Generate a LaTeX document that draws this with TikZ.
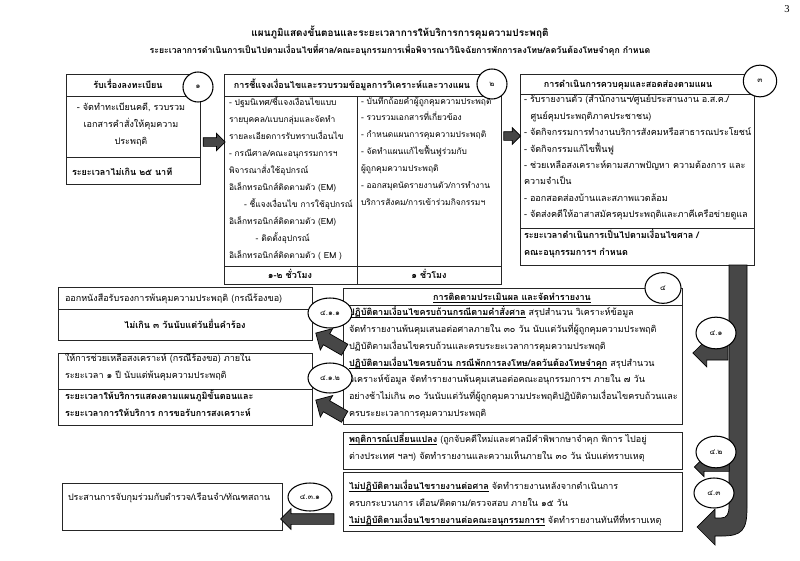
\documentclass[tikz,border=0pt]{standalone}
\usepackage{fontspec}
\setmainfont{Liberation Serif}
\newfontfamily\thaifont[Script=Thai]{Loma}
\usetikzlibrary{shapes.geometric,shapes.arrows,fit,calc}
\newcommand\mystrut{\rule[-4.45pt]{0pt}{14.45pt}}
\newcommand\myul[1]{{\setbox0\hbox{#1}\rlap{\rule[-2.2pt]{\wd0}{0.5pt}}\box0}}
\begin{document}
\begin{tikzpicture}[x=0.03cm,y=-0.03cm,
  base/.style={font=\thaifont\fontsize{7.7}{14.45}\selectfont, inner sep=0pt, outer sep=0pt,
    execute at begin node={\lineskiplimit=-20pt\lineskip=0pt\mystrut}},
  t/.style={base, align=left, anchor=north west},
  ctr/.style={base, anchor=center},
  bold/.style={font=\thaifont\bfseries\fontsize{7.7}{14.45}\selectfont},
  small/.style={font=\thaifont\fontsize{7.2}{14.45}\selectfont},
  frame/.style={draw=black!85, line width=0.7pt, inner sep=0pt, outer sep=0pt},
  rule/.style={draw=black!85, line width=0.7pt},
  lbl/.style={ellipse, draw=black, line width=0.9pt, fill=white, inner sep=0pt,
    font=\thaifont\fontsize{6.5}{8}\selectfont},
  blk/.style={single arrow, draw=black, line width=0.6pt, fill=black!72, inner sep=0pt,
    single arrow head indent=0pt, minimum width=0pt, outer sep=0pt},
]
\useasboundingbox (0,0) rectangle (800,561);
\fill[white] (0,0) rectangle (800,561);

% ---------- titles
\node[ctr, font=\thaifont\bfseries\fontsize{8.5}{14.45}\selectfont] (title) at (400,33)
  {แผนภูมิแสดงขั้นตอนและระยะเวลาการให้บริการการคุมความประพฤติ};
\node[ctr, font=\thaifont\bfseries\fontsize{7.45}{14.45}\selectfont] (subtitle) at (400,50)
  {ระยะเวลาการดำเนินการเป็นไปตามเงื่อนไขที่ศาล/คณะอนุกรรมการเพื่อพิจารณาวินิจฉัยการพักการลงโทษ/ลดวันต้องโทษจำคุก กำหนด};
\node[inner sep=0pt, font=\fontsize{9}{10}\selectfont] (pg) at (787,9) {3};

% ---------- box 1
\node[frame, fit={(66,74)(200,184)}] (b1) {};
\draw[rule] (66,96) -- (200,96);
\draw[rule] (66,157) -- (200,157);
\node[ctr, bold] (b1h) at (128,85) {รับเรื่องลงทะเบียน};
\node[t, align=center, anchor=north] (b1b) at (131,103)
  {- จัดทำทะเบียนคดี, รวบรวม\\เอกสารคำสั่งให้คุมความ\\ประพฤติ};
\node[ctr, bold, anchor=west] (b1f) at (72,172) {ระยะเวลาไม่เกิน ๒๕ นาที};
\node[lbl, minimum width=0.9cm, minimum height=0.9cm] (c1) at (198,87) {๑};

% ---------- box 2
\node[frame, fit={(224,74)(501,284)}] (b2) {};
\draw[rule] (224,96) -- (501,96);
\draw[rule] (357,96) -- (357,284);
\draw[rule] (224,266) -- (501,266);
\node[ctr, bold] (b2h) at (352,85) {การชี้แจงเงื่อนไขและรวบรวมข้อมูลการวิเคราะห์และวางแผน};
\node[t, small] (b2l) at (229,97)
  {- ปฐมนิเทศ/ชี้แจงเงื่อนไขแบบ\\
   รายบุคคล/แบบกลุ่มและจัดทำ\\
   รายละเอียดการรับทราบเงื่อนไข\\
   - กรณีศาล/คณะอนุกรรมการฯ\\
   พิจารณาสั่งใช้อุปกรณ์\\
   อิเล็กทรอนิกส์ติดตามตัว (EM)\\
   \hspace*{4.5mm}- ชี้แจงเงื่อนไข การใช้อุปกรณ์\\
   อิเล็กทรอนิกส์ติดตามตัว (EM)\\
   \hspace*{8mm}- ติดตั้งอุปกรณ์\\
   อิเล็กทรอนิกส์ติดตามตัว ( EM )};
\node[t, small] (b2r) at (361,97)
  {- บันทึกถ้อยคำผู้ถูกคุมความประพฤติ\\
   - รวบรวมเอกสารที่เกี่ยวข้อง\\
   - กำหนดแผนการคุมความประพฤติ\\
   - จัดทำแผนแก้ไขฟื้นฟูร่วมกับ\\
   ผู้ถูกคุมความประพฤติ\\
   - ออกสมุดนัดรายงานตัว/การทำงาน\\
   บริการสังคม/การเข้าร่วมกิจกรรมฯ};
\node[ctr, bold] (b2f1) at (290,275) {๑-๒ ชั่วโมง};
\node[ctr, bold] (b2f2) at (429,275) {๑ ชั่วโมง};
\node[lbl, minimum width=0.9cm, minimum height=0.9cm] (c2) at (492,84) {๒};

% ---------- box 3
\node[frame, fit={(520,74)(754,265)}] (b3) {};
\draw[rule] (520,94) -- (754,94);
\draw[rule] (520,228) -- (754,228);
\node[ctr, bold] (b3h) at (628,84) {การดำเนินการควบคุมและสอดส่องตามแผน};
\node[t, font=\thaifont\fontsize{7.7}{14.0}\selectfont] (b3b) at (524,95)
  {- รับรายงานตัว (สำนักงานฯ/ศูนย์ประสานงาน อ.ส.ค./\\
   \hspace*{2mm}ศูนย์คุมประพฤติภาคประชาชน)\\
   - จัดกิจกรรมการทำงานบริการสังคมหรือสาธารณประโยชน์\\
   - จัดกิจกรรมแก้ไขฟื้นฟู\\
   - ช่วยเหลือสงเคราะห์ตามสภาพปัญหา ความต้องการ และ\\
   ความจำเป็น\\
   - ออกสอดส่องบ้านและสภาพแวดล้อม\\
   - จัดส่งคดีให้อาสาสมัครคุมประพฤติและภาคีเครือข่ายดูแล};
\node[t, bold] (b3f) at (524,229)
  {ระยะเวลาดำเนินการเป็นไปตามเงื่อนไขศาล /\\คณะอนุกรรมการฯ กำหนด};
\node[lbl, minimum width=1.0cm, minimum height=0.95cm] (c3) at (760,81) {๓};

% ---------- arrows between top boxes
\node[blk, minimum height=0.66cm, inner ysep=0.12cm, single arrow head extend=0.13cm] (a12)
  at (212,142) {};
\node[blk, minimum height=0.5cm, inner ysep=0.12cm, single arrow head extend=0.12cm] (a23)
  at (510,136) {};

% ---------- box 4
\node[frame, fit={(343,288)(682,424)}] (b4) {};
\draw[rule] (343,305) -- (682,305);
\node[ctr, bold] (b4h) at (512,297) {\myul{การติดตามประเมินผล และจัดทำรายงาน}};
\node[t] (b4b) at (349,306)
  {{\bfseries\myul{ปฏิบัติตามเงื่อนไขครบถ้วนกรณีตามคำสั่งศาล}} สรุปสำนวน วิเคราะห์ข้อมูล\\
   จัดทำรายงานพ้นคุมเสนอต่อศาลภายใน ๓๐ วัน นับแต่วันที่ผู้ถูกคุมความประพฤติ\\
   ปฏิบัติตามเงื่อนไขครบถ้วนและครบระยะเวลาการคุมความประพฤติ\\
   {\bfseries\myul{ปฏิบัติตามเงื่อนไขครบถ้วน กรณีพักการลงโทษ/ลดวันต้องโทษจำคุก}} สรุปสำนวน\\
   วิเคราะห์ข้อมูล จัดทำรายงานพ้นคุมเสนอต่อคณะอนุกรรมการฯ ภายใน ๗ วัน\\
   อย่างช้าไม่เกิน ๓๐ วันนับแต่วันที่ผู้ถูกคุมความประพฤติปฏิบัติตามเงื่อนไขครบถ้วนและ\\
   ครบระยะเวลาการคุมความประพฤติ};
\node[lbl, minimum width=1.08cm, minimum height=0.92cm] (c4) at (663,288) {๔};

% ---------- box 4.2
\node[frame, fit={(343,432)(682,469)}] (b42) {};
\node[t] (b42b) at (349,433)
  {{\bfseries\myul{พฤติการณ์เปลี่ยนแปลง}} (ถูกจับคดีใหม่และศาลมีคำพิพากษาจำคุก พิการ ไปอยู่\\
   ต่างประเทศ ฯลฯ) จัดทำรายงานและความเห็นภายใน ๓๐ วัน นับแต่ทราบเหตุ};

% ---------- box 4.3
\node[frame, fit={(343,472)(682,531)}] (b43) {};
\node[t] (b43b) at (349,480)
  {{\bfseries\myul{ไม่ปฏิบัติตามเงื่อนไขรายงานต่อศาล}} จัดทำรายงานหลังจากดำเนินการ\\
   ครบกระบวนการ เตือน/ติดตาม/ตรวจสอบ ภายใน ๑๕ วัน\\
   {\bfseries\myul{ไม่ปฏิบัติตามเงื่อนไขรายงานต่อคณะอนุกรรมการฯ}} จัดทำรายงานทันทีที่ทราบเหตุ};

% ---------- right big arrow
\coordinate (barTop) at ($(b3.south east)+(-7,0)$);
\fill[black!72, draw=black, line width=0.6pt]
  (barTop) -- (747,508) .. controls (747,530) and (742,536) .. (722,536)
  -- (715,536) -- (715,545) -- (697,527) -- (715,509) -- (715,518) -- (721,518)
  .. controls (727,518) and (729,514) .. (729,506) -- ($(barTop)+(-18,0)$) -- cycle;
\node[blk, minimum height=1.05cm, inner ysep=0.2cm, single arrow head extend=0.2cm,
  shape border rotate=180] (a41) at (714,353) {};
\node[blk, minimum height=1.05cm, inner ysep=0.12cm, single arrow head extend=0.16cm,
  shape border rotate=180] (a42) at (714,467) {};
\node[lbl, minimum width=1.2cm, minimum height=0.95cm] (e41) at (716,333) {๔.๑};
\node[lbl, minimum width=1.2cm, minimum height=0.95cm] (e42) at (716,452) {๔.๒};
\node[lbl, minimum width=1.2cm, minimum height=0.9cm] (e43) at (714,493) {๔.๓};

% ---------- left boxes
\node[frame, fit={(58,287)(312,340)}] (l1) {};
\draw[rule] (58,309) -- (312,309);
\node[ctr, anchor=west] (l1a) at (65,298) {ออกหนังสือรับรองการพ้นคุมความประพฤติ (กรณีร้องขอ)};
\node[ctr, bold] (l1b) at (185,325) {ไม่เกิน ๓ วันนับแต่วันยื่นคำร้อง};

\node[frame, fit={(58,353)(312,425)}] (l2) {};
\draw[rule] (58,389) -- (312,389);
\node[t] (l2a) at (65,353) {ให้การช่วยเหลือสงเคราะห์ (กรณีร้องขอ) ภายใน\\ระยะเวลา ๑ ปี นับแต่พ้นคุมความประพฤติ};
\node[t, bold] (l2b) at (65,390) {ระยะเวลาให้บริการแสดงตามแผนภูมิขั้นตอนและ\\ระยะเวลาการให้บริการ การขอรับการสงเคราะห์};

\node[frame, fit={(62,483)(282,530)}] (l3) {};
\node[ctr, anchor=west] (l3a) at (68,497) {ประสานการจับกุมร่วมกับตำรวจ/เรือนจำ/ทัณฑสถาน};

\node[lbl, minimum width=1.32cm, minimum height=0.9cm] (e411) at (330,313) {๔.๑.๑};
\node[lbl, minimum width=1.32cm, minimum height=0.9cm] (e412) at (330,378) {๔.๑.๒};
\node[lbl, minimum width=1.32cm, minimum height=0.84cm] (e431) at (310,497) {๔.๓.๑};

\node[blk, minimum height=1.0cm, inner ysep=0.18cm, single arrow head extend=0.18cm,
  rotate=150] (a411) at (333,343) {};
\node[blk, minimum height=1.0cm, inner ysep=0.18cm, single arrow head extend=0.18cm,
  rotate=150] (a412) at (333,410) {};
\node[blk, minimum height=1.6cm, inner ysep=0.15cm, single arrow head extend=0.15cm,
  shape border rotate=180] (a431) at (310,519) {};
\end{tikzpicture}
\end{document}
